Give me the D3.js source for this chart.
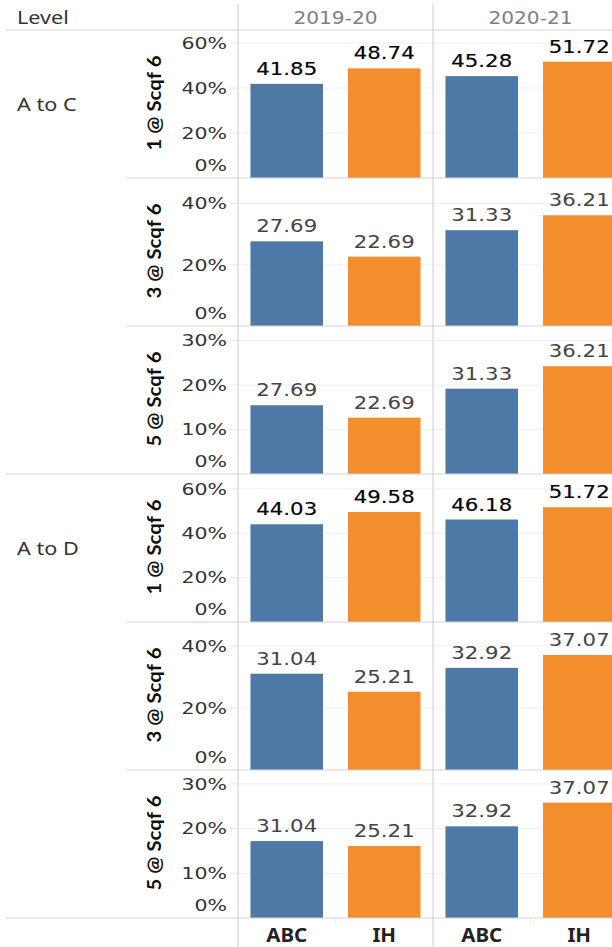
<!DOCTYPE html>
<html>
<head>
<meta charset="utf-8">
<script src="https://cdn.jsdelivr.net/npm/d3@7"></script>
<style>
  html, body { margin: 0; padding: 0; background: #fff; }
  svg { display: block; }
</style>
</head>
<body>
<script>
// ---- data -------------------------------------------------------------
const levels   = ["A to C", "A to D"];
const measures = ["1 @ Scqf 6", "3 @ Scqf 6", "5 @ Scqf 6"];
const years    = ["2019-20", "2020-21"];
const groups   = ["ABC", "IH"];

// bar values (%), per level -> measure -> [2019-20 ABC, 2019-20 IH, 2020-21 ABC, 2020-21 IH]
const aToC_1 = [41.85, 48.74, 45.28, 51.72];
const aToC_3 = [27.69, 22.69, 31.33, 36.21];
const aToC_5 = [15.47, 12.68, 19.20, 24.25];
const aToD_1 = [44.03, 49.58, 46.18, 51.72];
const aToD_3 = [31.04, 25.21, 32.92, 37.07];
const aToD_5 = [17.20, 16.10, 20.50, 25.80];

// the label field is the measure's own rate, except the 5 @ row, which is labelled with the 3 @ rate
const aToC_labels = [aToC_1, aToC_3, aToC_3];
const aToD_labels = [aToD_1, aToD_3, aToD_3];

// axis ranges and ticks for each measure row
const axisMaxAtoC = [65.8, 48.4, 33.3];
const axisMaxAtoD = [66.7, 47.7, 33.1];
const tickValues  = [[0, 20, 40, 60], [0, 20, 40], [0, 10, 20, 30]];

const barColors = { "ABC": "#4e79a7", "IH": "#f28e2b" };

// ---- layout -----------------------------------------------------------
const W = 612, H = 947;
const headerH = 30, rowH = 148;
const paneX0 = 238, paneW = 195;
const axisRight = 227;
const rowLabelX = 154;

const svg = d3.select("body").append("svg").attr("width", W).attr("height", H);

// stretch text horizontally by factor k (keeps the chosen cap height)
function stretch(sel, k) {
  sel.each(function () {
    const w = this.getComputedTextLength();
    this.setAttribute("textLength", (w * k).toFixed(2));
    this.setAttribute("lengthAdjust", "spacingAndGlyphs");
  });
}

const rows = [];
levels.forEach((lv, li) => {
  const vals = li === 0 ? [aToC_1, aToC_3, aToC_5] : [aToD_1, aToD_3, aToD_5];
  const labs = li === 0 ? aToC_labels : aToD_labels;
  const maxes = li === 0 ? axisMaxAtoC : axisMaxAtoD;
  measures.forEach((m, mi) => {
    rows.push({ level: lv, li, measure: m, mi, values: vals[mi], labels: labs[mi], max: maxes[mi], ticks: tickValues[mi] });
  });
});

const yRow = d3.scaleBand().domain(d3.range(rows.length)).range([headerH, headerH + rowH * rows.length]);
const xYear = d3.scaleBand().domain(years).range([paneX0, paneX0 + paneW * years.length]);
const xGroup = d3.scaleBand().domain(groups).range([0, paneW]).paddingInner(0.256).paddingOuter(0.128);

const gridColor = "#efefef", ruleColor = "#d4d4d4";

// ---- header ------------------------------------------------------------
svg.append("text").attr("x", 17).attr("y", 24)
  .attr("font-family", "'Noto Sans', sans-serif").attr("font-size", 18).attr("fill", "#333")
  .text("Level").call(stretch, 1.2);

svg.selectAll("text.year").data(years).join("text").attr("class", "year")
  .attr("x", d => xYear(d) + paneW / 2).attr("y", 24).attr("text-anchor", "middle")
  .attr("font-family", "'DejaVu Sans', sans-serif").attr("font-size", 18).attr("fill", "#7f7f7f")
  .text(d => d).call(stretch, 1.12);

// ---- rows -------------------------------------------------------------
rows.forEach((r, ri) => {
  const top = yRow(ri), bottom = top + rowH;
  const y = d3.scaleLinear().domain([0, r.max]).range([bottom, top]);
  const g = svg.append("g");

  // gridlines across both panes
  g.selectAll("line.grid").data(r.ticks.filter(t => t > 0)).join("line")
    .attr("x1", paneX0).attr("x2", W).attr("y1", d => y(d)).attr("y2", d => y(d))
    .attr("stroke", gridColor).attr("stroke-width", 1);
  // small axis ticks
  g.selectAll("line.tick").data(r.ticks.filter(t => t > 0)).join("line")
    .attr("x1", axisRight + 3).attr("x2", paneX0).attr("y1", d => y(d)).attr("y2", d => y(d))
    .attr("stroke", "#e6e6e6").attr("stroke-width", 1);

  // tick labels
  g.selectAll("text.tick").data(r.ticks).join("text")
    .attr("x", axisRight).attr("text-anchor", "end")
    .attr("y", d => d === 0 ? y(d) - 7 : y(d))
    .attr("dy", d => d === 0 ? 0 : "0.36em")
    .attr("font-family", "'DejaVu Sans', sans-serif").attr("font-size", 16).attr("fill", "#333")
    .text(d => d + "%").call(stretch, 1.28);

  // measure label (rotated)
  g.append("text")
    .attr("transform", `translate(${rowLabelX + 7},${(top + bottom) / 2 - 1}) rotate(-90)`)
    .attr("text-anchor", "middle")
    .attr("font-family", "Lato, sans-serif").attr("font-weight", 700).attr("font-size", 18.5).attr("fill", "#111")
    .text(r.measure).call(stretch, 1.1);

  // level label on the first row of each level
  if (r.mi === 0) {
    g.append("text").attr("x", 17).attr("y", (top + bottom) / 2 + 6.5)
      .attr("font-family", "'Noto Sans', sans-serif").attr("font-size", 18).attr("fill", "#333")
      .text(r.level).call(stretch, 1.2);
  }

  // bars
  const cells = [];
  years.forEach((yr, yi) => groups.forEach((gr, gi) => {
    const k = yi * 2 + gi;
    cells.push({ year: yr, group: gr, value: r.values[k], label: r.labels[k] });
  }));

  g.selectAll("rect.bar").data(cells).join("rect")
    .attr("x", d => xYear(d.year) + xGroup(d.group))
    .attr("width", xGroup.bandwidth())
    .attr("y", d => y(d.value))
    .attr("height", d => y(0) - y(d.value))
    .attr("fill", d => barColors[d.group]);

  const strong = r.mi === 0;
  g.selectAll("text.val").data(cells).join("text")
    .attr("x", d => xYear(d.year) + xGroup(d.group) + xGroup.bandwidth() / 2)
    .attr("y", d => y(d.value) - 9)
    .attr("text-anchor", "middle")
    .attr("font-family", "'DejaVu Sans', sans-serif").attr("font-size", 17)
    .attr("fill", strong ? "#000" : "#444")
    .attr("stroke", strong ? "#000" : "none").attr("stroke-width", strong ? 0.15 : 0)
    .text(d => d.label.toFixed(2)).call(stretch, 1.25);
});

// ---- rules ------------------------------------------------------------
const bottomY = headerH + rowH * rows.length;
// row separators: full width at level boundaries, inner ones start at the measure column
rows.forEach((r, ri) => {
  const yb = yRow(ri) + rowH;
  const full = r.mi === measures.length - 1;
  svg.append("line").attr("x1", full ? 6 : 127).attr("x2", W)
    .attr("y1", yb).attr("y2", yb).attr("stroke", ruleColor).attr("stroke-width", 1.2);
});
svg.append("line").attr("x1", 6).attr("x2", W).attr("y1", headerH).attr("y2", headerH)
  .attr("stroke", ruleColor).attr("stroke-width", 1.2);

// pane dividers
svg.selectAll("line.vdiv").data([paneX0].concat(years.slice(1).map(d => xYear(d)))).join("line")
  .attr("x1", d => d).attr("x2", d => d).attr("y1", 4).attr("y2", H)
  .attr("stroke", ruleColor).attr("stroke-width", 1.2);

// ---- x axis labels ----------------------------------------------------
const xl = svg.append("g");
years.forEach(yr => {
  xl.selectAll(null).data(groups).join("text")
    .attr("x", d => xYear(yr) + xGroup(d) + xGroup.bandwidth() / 2)
    .attr("y", bottomY + 23.5).attr("text-anchor", "middle")
    .attr("font-family", "'Noto Sans', sans-serif").attr("font-weight", 700).attr("font-size", 19)
    .attr("fill", "#222")
    .text(d => d).call(stretch, 1.08);
  // faint divider between the two category columns
  xl.append("line").attr("x1", xYear(yr) + paneW / 2).attr("x2", xYear(yr) + paneW / 2)
    .attr("y1", bottomY).attr("y2", bottomY + 6).attr("stroke", "#eeeeee");
});
</script>
</body>
</html>
